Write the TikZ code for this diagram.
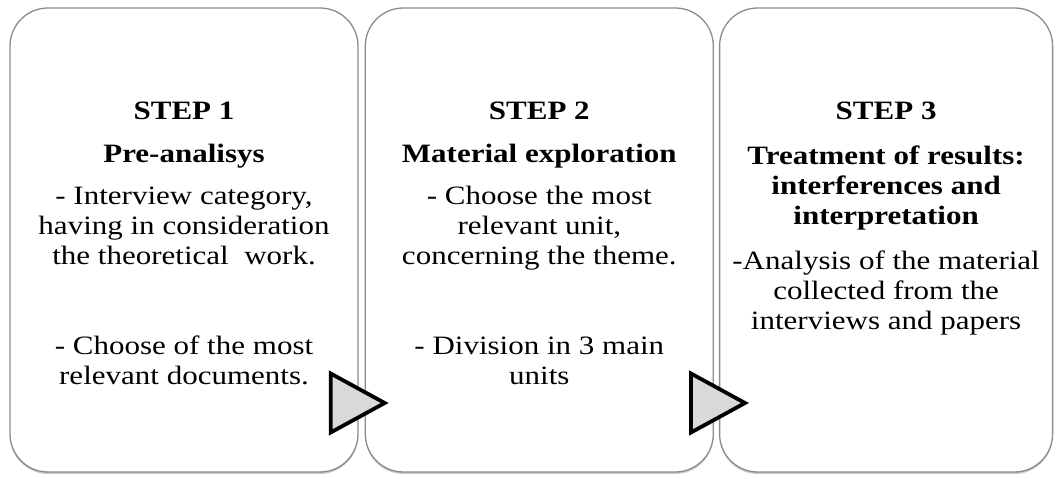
\documentclass[tikz,border=0pt]{standalone}
\usepackage{fontspec}
\setmainfont{Liberation Serif}[FakeStretch=1.17]
\usepackage{tikz}
\usetikzlibrary{positioning, shapes.geometric, shadows}
\definecolor{boxgray}{RGB}{140,140,140}
\definecolor{trigray}{RGB}{217,217,217}

\begin{document}
\begin{tikzpicture}[x=1pt, y=1pt,
  stepbox/.style={draw=boxgray, line width=1.3pt, rounded corners=38pt, fill=white, minimum width=348pt, minimum height=464pt,
    drop shadow={shadow xshift=0pt, shadow yshift=-2pt, opacity=.35, fill=black!60}},
  steptext/.style={align=center, inner sep=0pt, font=\fontsize{26.5pt}{30pt}\selectfont},
  marker/.style={draw=black, line width=3.8pt, fill=trigray, isosceles triangle, isosceles triangle stretches,
    minimum width=59pt, minimum height=54pt, inner sep=0pt, anchor=apex}]
  \useasboundingbox (0,0) rectangle (1058,479);
  % the three steps
  \node[stepbox] (box1) at (184,239) {};
  \node[stepbox, right=6pt of box1] (box2) {};
  \node[stepbox, right=5pt of box2, minimum width=333pt] (box3) {};
  \node[steptext, below=94pt of box1.north] (txt1) {\textbf{STEP 1}\\[13pt]\textbf{Pre-analisys}\\[12pt]- Interview category,\\having in consideration\\the theoretical\ \ work.\\[60pt]- Choose of the most\\relevant documents.};
  \node[steptext, below=94pt of box2.north] (txt2) {\textbf{STEP 2}\\[13pt]\textbf{Material exploration}\\[12pt]- Choose the most\\relevant unit,\\concerning the theme.\\[60pt]- Division in 3 main\\units};
  \node[steptext, below=94pt of box3.north] (txt3) {\textbf{STEP 3}\\[15pt]\textbf{Treatment of results:}\\\textbf{interferences and}\\\textbf{interpretation}\\[15pt]-Analysis of the material\\collected from the\\interviews and papers};
  % arrows between the steps
  \node[marker] (tri1) at ([xshift=31pt, yshift=-163pt]box1.east) {};
  \node[marker] (tri2) at ([xshift=36pt, yshift=-163pt]box2.east) {};
\end{tikzpicture}
\end{document}
